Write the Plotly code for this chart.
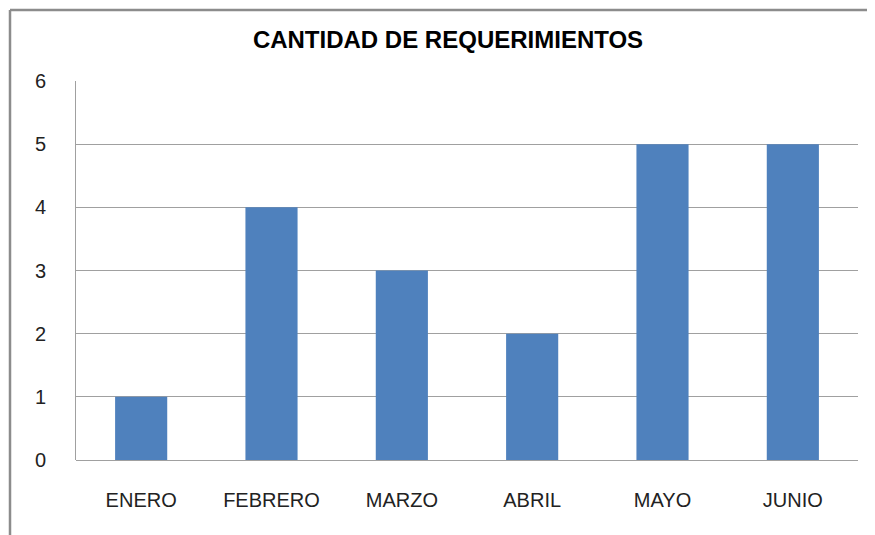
import plotly.graph_objects as go

categories = ["ENERO", "FEBRERO", "MARZO", "ABRIL", "MAYO", "JUNIO"]
values = [1, 4, 3, 2, 5, 5]
y_ticks = [0, 1, 2, 3, 4, 5, 6]

O = 8  # page body margin offset
W, H = 875 - O, 535 - O
# plot area in page pixel coordinates
PL, PR, PT, PB = 76, 858, 81, 460
L, T = PL - O, PT - O
R, B = W - (PR - O), H - (PB - O)
pw, ph = PR - PL, PB - PT

def px_x(p):
    return (p - PL) / pw

def px_y(p):
    return (PB - p) / ph

fig = go.Figure(go.Bar(x=categories, y=values, marker_color="#4F81BD",
                       marker_line_width=0, width=0.4))

fig.update_layout(
    width=W, height=H,
    margin=dict(l=L, r=R, t=T, b=B),
    paper_bgcolor="white", plot_bgcolor="white",
    showlegend=False,
    font=dict(family="Liberation Sans, Arial, sans-serif", color="#222"),
    title=dict(text="<b>CANTIDAD DE REQUERIMIENTOS</b>", x=px_x(448), xref="paper",
               xanchor="center", y=1 - (40 - O) / H, yanchor="middle",
               font=dict(size=24, color="#000", family="Liberation Sans, Arial, sans-serif")),
)
fig.update_xaxes(showgrid=False, showline=False, ticks="outside", ticklen=22,
                 tickcolor="rgba(0,0,0,0)", tickfont=dict(size=20, color="#222"))
fig.update_yaxes(range=[0, 6], tickvals=y_ticks, showgrid=True, gridcolor="#A0A0A0",
                 gridwidth=1, showline=True, linecolor="#A0A0A0", linewidth=1,
                 zeroline=True, zerolinecolor="#A0A0A0", zerolinewidth=1,
                 ticks="outside", ticklen=25, tickcolor="rgba(0,0,0,0)",
                 tickfont=dict(size=20, color="#222"))

# outer chart border (left and top visible)
fig.add_shape(type="line", xref="paper", yref="paper", x0=px_x(10), x1=px_x(900),
              y0=px_y(10), y1=px_y(10), line=dict(color="#8C8C8C", width=2.5))
fig.add_shape(type="line", xref="paper", yref="paper", x0=px_x(10), x1=px_x(10),
              y0=px_y(10), y1=px_y(600), line=dict(color="#8C8C8C", width=2.5))

fig.write_html("out.html")
